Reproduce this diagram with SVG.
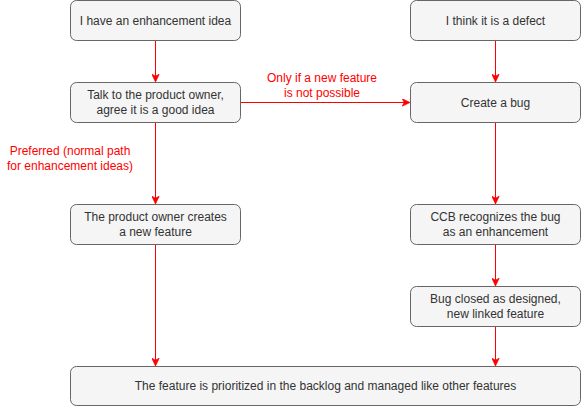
<svg xmlns="http://www.w3.org/2000/svg" width="581" height="406" viewBox="0 0 581 406">
<style>
.n rect{fill:#f5f5f5;stroke:#666666;stroke-width:1}
.n text{font-family:"Liberation Sans",Arial,sans-serif;font-size:12px;fill:#333333;text-anchor:middle}
.e{stroke:#ff0000;stroke-width:1;fill:none;marker-end:url(#a)}
.l{font-family:"Liberation Sans",Arial,sans-serif;font-size:12px;fill:#ff0000;text-anchor:middle}
</style>
<defs>
<marker id="a" viewBox="0 0 10 10" refX="9" refY="5" markerWidth="8" markerHeight="8" markerUnits="userSpaceOnUse" orient="auto">
<path d="M0,0.5 L9.5,5 L0,9.5 L2.5,5 Z" fill="#ff0000" stroke="#ff0000" stroke-width="1"/>
</marker>
</defs>
<rect width="581" height="406" fill="#ffffff"/>
<g id="connectors">
<path class="e" d="M155.5,40.5 V81.5"/>
<path class="e" d="M155.5,122.5 V203.5"/>
<path class="e" d="M240.5,102.5 H409.5"/>
<path class="e" d="M495.5,40.5 V81.5"/>
<path class="e" d="M495.5,122.5 V203.5"/>
<path class="e" d="M495.5,244.5 V285.5"/>
<path class="e" d="M155.5,244.5 V365.5"/>
<path class="e" d="M495.5,326.5 V365.5"/>
<text class="l" x="322" y="82">Only if a new feature</text>
<text class="l" x="322" y="97">is not possible</text>
<text class="l" x="70" y="155">Preferred (normal path</text>
<text class="l" x="70" y="170">for enhancement ideas)</text>
</g>
<g id="n1" class="n"><rect x="70.5" y="0.5" width="170" height="40" rx="6"/><text x="155.5" y="24.5">I have an enhancement idea</text></g>
<g id="n2" class="n"><rect x="70.5" y="82.5" width="170" height="40" rx="6"/><text x="155.5" y="99">Talk to the product owner,</text><text x="155.5" y="114">agree it is a good idea</text></g>
<g id="n3" class="n"><rect x="410.5" y="0.5" width="170" height="40" rx="6"/><text x="495.5" y="24.5">I think it is a defect</text></g>
<g id="n4" class="n"><rect x="410.5" y="82.5" width="170" height="40" rx="6"/><text x="495.5" y="106.5">Create a bug</text></g>
<g id="n5" class="n"><rect x="70.5" y="204.5" width="170" height="40" rx="6"/><text x="155.5" y="221">The product owner creates</text><text x="155.5" y="236">a new feature</text></g>
<g id="n6" class="n"><rect x="410.5" y="204.5" width="170" height="40" rx="6"/><text x="495.5" y="221">CCB recognizes the bug</text><text x="495.5" y="236">as an enhancement</text></g>
<g id="n7" class="n"><rect x="410.5" y="286.5" width="170" height="40" rx="6"/><text x="495.5" y="303">Bug closed as designed,</text><text x="495.5" y="318">new linked feature</text></g>
<g id="n8" class="n"><rect x="70.5" y="366.5" width="510" height="39" rx="6"/><text x="325.5" y="390">The feature is prioritized in the backlog and managed like other features</text></g>
</svg>
